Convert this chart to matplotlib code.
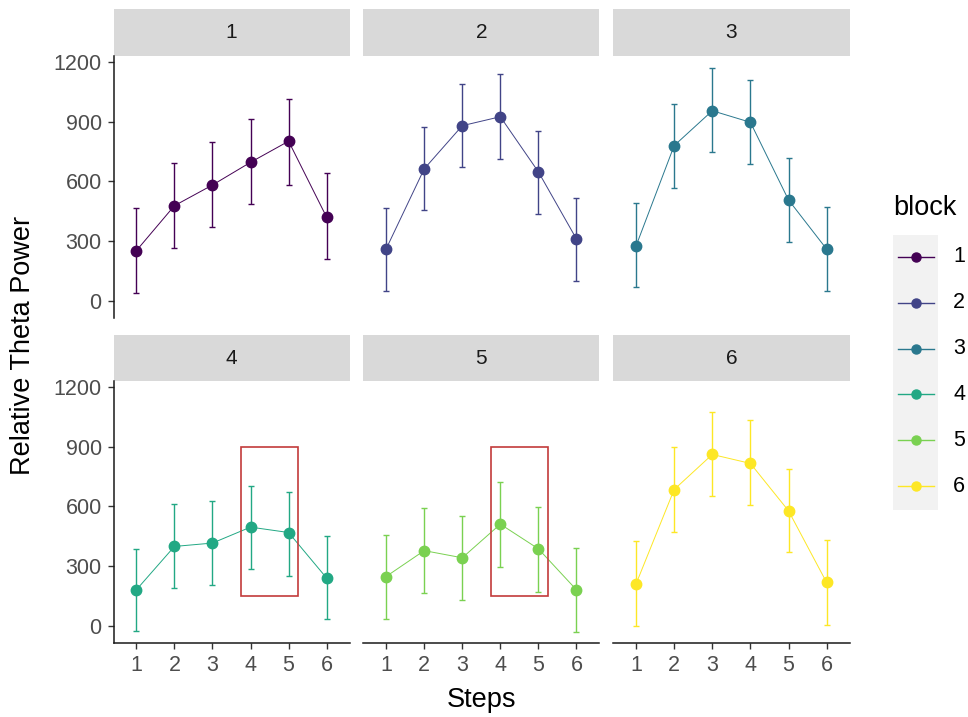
import matplotlib
matplotlib.use("Agg")
import matplotlib.pyplot as plt
from matplotlib.patches import Rectangle
from matplotlib.lines import Line2D

plt.rcParams['font.family'] = ['Liberation Sans', 'DejaVu Sans']

steps = [1, 2, 3, 4, 5, 6]
blocks = ["1", "2", "3", "4", "5", "6"]
colors = ["#440154", "#414487", "#2A788E", "#22A884", "#7AD151", "#FDE725"]

mean_b1 = [252, 478, 582, 696, 802, 420]
lo_b1 = [42, 268, 370, 487, 582, 211]
hi_b1 = [465, 691, 800, 912, 1012, 641]

mean_b2 = [261, 663, 880, 925, 648, 311]
lo_b2 = [50, 457, 671, 714, 437, 100]
hi_b2 = [467, 875, 1088, 1140, 855, 517]

mean_b3 = [276, 780, 955, 897, 507, 260]
lo_b3 = [72, 566, 750, 686, 298, 50]
hi_b3 = [490, 987, 1168, 1110, 716, 473]

mean_b4 = [181, 399, 416, 496, 469, 240]
lo_b4 = [-28, 189, 203, 285, 253, 35]
hi_b4 = [387, 613, 628, 704, 672, 452]

mean_b5 = [248, 378, 342, 511, 387, 181]
lo_b5 = [35, 164, 131, 298, 172, -32]
hi_b5 = [454, 591, 554, 725, 596, 393]

mean_b6 = [211, 685, 861, 816, 578, 218]
lo_b6 = [0, 474, 653, 608, 370, 5]
hi_b6 = [424, 898, 1075, 1032, 790, 432]

means = [mean_b1, mean_b2, mean_b3, mean_b4, mean_b5, mean_b6]
los = [lo_b1, lo_b2, lo_b3, lo_b4, lo_b5, lo_b6]
his = [hi_b1, hi_b2, hi_b3, hi_b4, hi_b5, hi_b6]

yticks = [0, 300, 600, 900, 1200]
# highlighted region (steps 4-5) in blocks 4 and 5
box_x = (3.75, 5.25)
box_y = (150, 900)
box_panels = [3, 4]

W, H = 968, 717
fig = plt.figure(figsize=(W / 100, H / 100), dpi=100)


def fax(x0, y0, x1, y1):
    return fig.add_axes([x0 / W, 1 - y1 / H, (x1 - x0) / W, (y1 - y0) / H])


col_x = [(113.5, 349.5), (363.3, 599.3), (613.2, 849.5)]
row_strip = [(9.3, 56), (335, 381)]
row_plot = [(56, 318), (381, 643)]

tick_color = "#4D4D4D"
for i in range(6):
    r, c = divmod(i, 3)
    x0, x1 = col_x[c]
    # strip
    sax = fax(x0, row_strip[r][0], x1, row_strip[r][1])
    sax.set_facecolor("#D9D9D9")
    sax.set_xticks([]); sax.set_yticks([])
    for s in sax.spines.values():
        s.set_visible(False)
    sax.text(0.5, 0.5, blocks[i], ha="center", va="center", fontsize=15,
             color="#1A1A1A", transform=sax.transAxes)

    ax = fax(x0, row_plot[r][0], x1, row_plot[r][1])
    ax.set_xlim(0.4, 6.6)
    ax.set_ylim(-86, 1230)
    m, lo, hi = means[i], los[i], his[i]
    err = [[mm - l for mm, l in zip(m, lo)], [h - mm for mm, h in zip(m, hi)]]
    ax.errorbar(steps, m, yerr=err, fmt="none", ecolor=colors[i],
                elinewidth=1.0, capsize=2.4, capthick=1.0, zorder=2)
    ax.plot(steps, m, color=colors[i], lw=0.7, zorder=3)
    ax.plot(steps, m, "o", color=colors[i], ms=7.5, zorder=4)

    if i in box_panels:
        ax.add_patch(Rectangle((box_x[0], box_y[0]), box_x[1] - box_x[0],
                               box_y[1] - box_y[0], fill=False,
                               edgecolor="#C23B3B", lw=1.2, zorder=5))

    for s in ["top", "right"]:
        ax.spines[s].set_visible(False)
    ax.spines["left"].set_visible(c == 0)
    ax.spines["bottom"].set_visible(r == 1)
    for s in ["left", "bottom"]:
        ax.spines[s].set_linewidth(1.1)
        ax.spines[s].set_color("#1A1A1A")
    ax.tick_params(colors="#333333", labelcolor=tick_color, labelsize=15.5,
                   length=4.5, width=1.0, pad=4)
    if c == 0:
        ax.set_yticks(yticks)
    else:
        ax.set_yticks([])
    if r == 1:
        ax.set_xticks(steps)
    else:
        ax.set_xticks([])

fig.text(23 / W, 1 - 345 / H, "Relative Theta Power", rotation=90,
         ha="center", va="center", fontsize=19.5, color="black")
fig.text(481 / W, 1 - 700 / H, "Steps", ha="center", va="center",
         fontsize=19.5, color="black")

# legend
lax = fax(880, 180, 968, 520)
lax.set_xlim(880, 968)
lax.set_ylim(520, 180)
lax.axis("off")
lax.text(893, 208, "block", ha="left", va="center", fontsize=19.5, color="black")
lax.add_patch(Rectangle((893, 235), 45, 275, facecolor="#F2F2F2", edgecolor="none"))
key_y = [257, 303, 349, 394, 440, 486]
for col, lab, ky in zip(colors, blocks, key_y):
    lax.add_line(Line2D([897.5, 933.5], [ky, ky], color=col, lw=1.0))
    lax.plot([915.5], [ky], "o", color=col, ms=6.5)
    lax.text(953, ky, lab, ha="left", va="center", fontsize=15.5, color="black")

fig.savefig("out.png", dpi=100, facecolor="white")
